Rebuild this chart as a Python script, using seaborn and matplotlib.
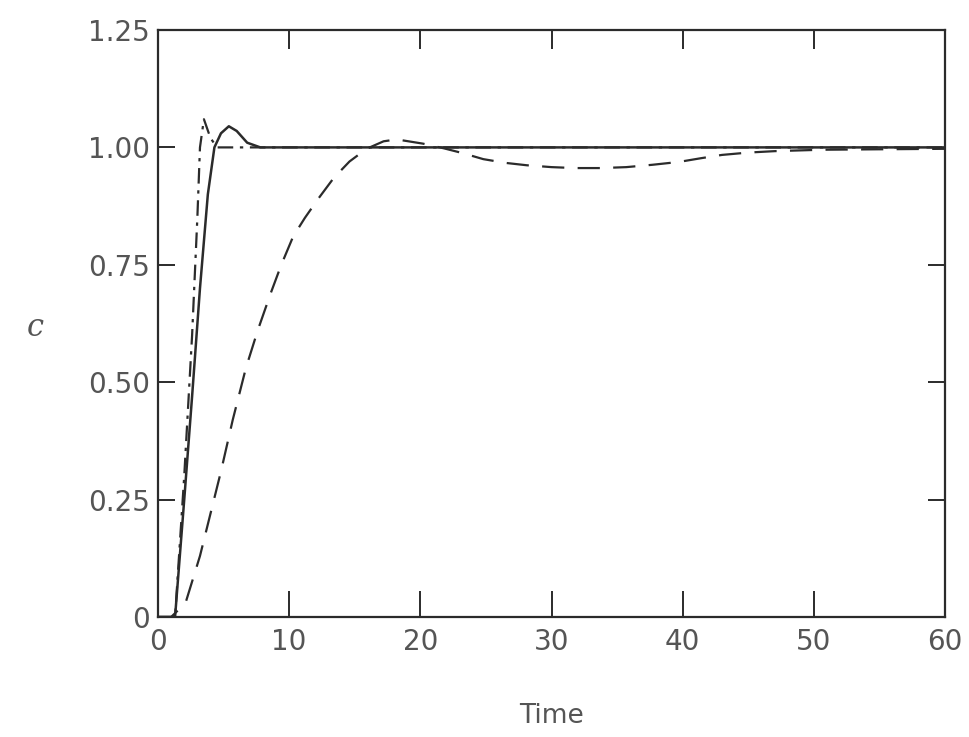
import matplotlib
matplotlib.use("Agg")
import matplotlib.pyplot as plt
import seaborn as sns
import pandas as pd

# Data
t_solid = [0, 1.3, 2.0, 2.6, 3.2, 3.8, 4.3, 4.8, 5.4, 6.0, 6.8, 7.8, 60]
c_solid = [0, 0, 0.25, 0.47, 0.70, 0.90, 1.0, 1.03, 1.045, 1.035, 1.01, 1.0, 1.0]

t_dashdot = [0, 1.3, 2.0, 2.6, 3.0, 3.2, 3.5, 4.0, 4.5, 5.5, 60]
c_dashdot = [0, 0, 0.30, 0.60, 0.85, 1.0, 1.06, 1.02, 1.0, 1.0, 1.0]

t_dashed = [0, 1.0, 2.1, 3.2, 4.0, 4.8, 5.7, 6.7, 7.6, 8.6, 9.4, 10.3, 11.2, 12.2,
            13.4, 14.6, 15.9, 17.2, 18.2, 20.2, 21.8, 23.2, 24.8, 26.5, 28.1, 30.0,
            31.8, 33.8, 35.7, 37.7, 39.7, 41.4, 43.0, 45.0, 47.0, 50.6, 55.0, 60]
c_dashed = [0, 0, 0.03, 0.13, 0.22, 0.31, 0.42, 0.53, 0.61, 0.69, 0.75, 0.81, 0.85, 0.89,
            0.935, 0.97, 0.997, 1.013, 1.017, 1.008, 0.998, 0.988, 0.975, 0.967, 0.962, 0.958,
            0.956, 0.956, 0.958, 0.963, 0.969, 0.977, 0.984, 0.989, 0.992, 0.995, 0.996, 0.997]

x_ticks = [0, 10, 20, 30, 40, 50, 60]
y_ticks = [0, 0.25, 0.50, 0.75, 1.00, 1.25]
y_ticklabels = ["0", "0.25", "0.50", "0.75", "1.00", "1.25"]

sns.set_style("white")
plt.rcParams['font.family'] = ['DejaVu Sans']

fig = plt.figure(figsize=(9.69, 7.37), dpi=100)
ax = fig.add_axes([158/969, 120/737, (945-158)/969, (617-30)/737])

line_col = "#2b2b2b"
df_s = pd.DataFrame({"t": t_solid, "c": c_solid})
df_d = pd.DataFrame({"t": t_dashdot, "c": c_dashdot})
df_l = pd.DataFrame({"t": t_dashed, "c": c_dashed})

sns.lineplot(data=df_l, x="t", y="c", ax=ax, color=line_col, lw=1.6,
             linestyle=(0, (10, 6)), sort=False)
sns.lineplot(data=df_d, x="t", y="c", ax=ax, color=line_col, lw=1.6,
             linestyle=(0, (7, 3, 1.5, 3)), sort=False)
sns.lineplot(data=df_s, x="t", y="c", ax=ax, color=line_col, lw=1.8, sort=False)

ax.set_xlim(0, 60)
ax.set_ylim(0, 1.25)

txt_col = "#555555"
ax.set_xticks(x_ticks)
ax.set_xticklabels([str(v) for v in x_ticks], fontsize=20, color=txt_col)
ax.set_yticks(y_ticks)
ax.set_yticklabels(y_ticklabels, fontsize=20, color=txt_col)
ax.tick_params(axis='x', bottom=True, direction='in', length=19, width=1.4,
               color=line_col, pad=8)
ax.tick_params(axis='y', left=True, direction='in', length=12, width=1.4,
               color=line_col, pad=6)

for s in ax.spines.values():
    s.set_visible(True)
    s.set_linewidth(1.6)
    s.set_color(line_col)

top = ax.secondary_xaxis('top')
top.set_xticks(x_ticks[1:-1])
top.set_xticklabels([])
top.tick_params(top=True, direction='in', length=14, width=1.4, color=line_col)
top.spines['top'].set_visible(False)

right = ax.secondary_yaxis('right')
right.set_yticks(y_ticks[1:4])
right.set_yticklabels([])
right.tick_params(right=True, direction='in', length=12, width=1.4, color=line_col)
right.spines['right'].set_visible(False)

ax.set_xlabel("Time", fontsize=19, color=txt_col, labelpad=34)
ax.set_ylabel("")
fig.text(35/969, 1 - 328/737, "c", fontsize=22, style='italic', family='DejaVu Serif',
         color=txt_col, ha='center', va='center')

fig.savefig("out.png", dpi=100, facecolor="white")
